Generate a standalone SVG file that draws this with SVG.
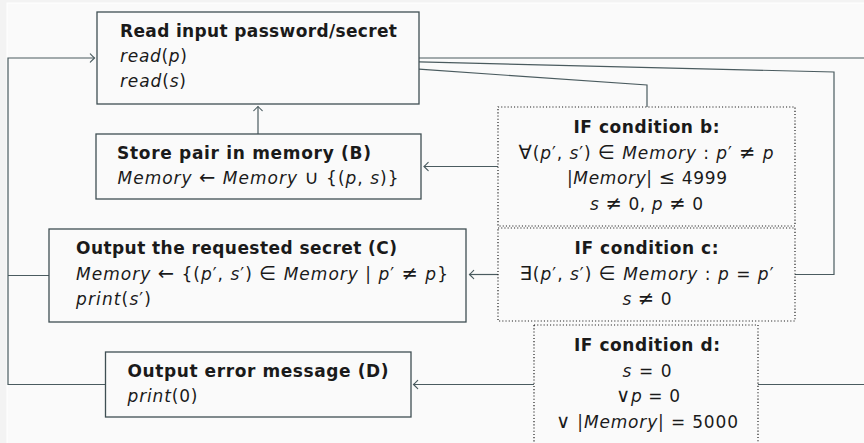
<svg xmlns="http://www.w3.org/2000/svg" width="864" height="443" viewBox="0 0 864 443">
<style>
.t{font-family:"DejaVu Sans",sans-serif;font-size:17px;fill:#1a1a1a}
.b{font-weight:bold}
.i{font-style:italic}
.m{text-anchor:middle}
.s{font-size:19.5px}
.box{fill:none;stroke:#3f4f53;stroke-width:1.3}
.dot{fill:none;stroke:#1e1e1e;stroke-width:1.2;stroke-dasharray:1.1 2.1}
.ln{fill:none;stroke:#4a5b5f;stroke-width:1.2}
</style>
<defs>
<marker id="arr" viewBox="-6 -6 8 12" refX="0" refY="0" markerWidth="8" markerHeight="12" markerUnits="userSpaceOnUse" orient="auto">
<path d="M-4.2,-4.2 Q-1,-0.9 0,0 Q-1,0.9 -4.2,4.2" fill="none" stroke="#4a5b5f" stroke-width="1.1" stroke-linecap="round"/>
</marker>
</defs>
<rect x="0" y="0" width="864" height="443" fill="#f3f3f3"/>
<rect x="7" y="3" width="870" height="450" fill="#fafafa" stroke="#ffffff" stroke-width="1"/>

<g id="connectors">
<path class="ln" d="M419,58 H880 V384.5 H758"/>
<path class="ln" d="M419,61.9 L834,72 V274.5 H795"/>
<path class="ln" d="M419,69.2 L647,85 V107"/>
<path class="ln" d="M498,166.5 H424" marker-end="url(#arr)"/>
<path class="ln" d="M498,274.5 H469.5" marker-end="url(#arr)"/>
<path class="ln" d="M534,384.5 H413.5" marker-end="url(#arr)"/>
<path class="ln" d="M258,134 V106.5" marker-end="url(#arr)"/>
<path class="ln" d="M105.5,384.5 H8 V58 H94.5" marker-end="url(#arr)"/>
<path class="ln" d="M49,275.5 H8"/>
</g>

<g id="node-read">
<rect class="box" x="97" y="12" width="322" height="92"/>
<text class="t b" x="120" y="37" textLength="277" lengthAdjust="spacing">Read input password/secret</text>
<text class="t" x="120" y="62" textLength="67" lengthAdjust="spacing"><tspan class="i">read</tspan>(<tspan class="i">p</tspan>)</text>
<text class="t" x="120" y="87" textLength="66" lengthAdjust="spacing"><tspan class="i">read</tspan>(<tspan class="i">s</tspan>)</text>
</g>

<g id="node-store">
<rect class="box" x="96" y="134" width="325" height="65"/>
<text class="t b" x="117" y="158.5" textLength="254" lengthAdjust="spacing">Store pair in memory (B)</text>
<text class="t" x="117.5" y="184" textLength="281" lengthAdjust="spacing"><tspan class="i">Memory</tspan> <tspan class="s">←</tspan> <tspan class="i">Memory</tspan> <tspan class="s">∪</tspan> {(<tspan class="i">p</tspan>, <tspan class="i">s</tspan>)}</text>
</g>

<g id="node-output-secret">
<rect class="box" x="49" y="229" width="417" height="93"/>
<text class="t b" x="76" y="254" textLength="321" lengthAdjust="spacing">Output the requested secret (C)</text>
<text class="t" x="76" y="279.5" textLength="372" lengthAdjust="spacing"><tspan class="i">Memory</tspan> <tspan class="s">←</tspan> {(<tspan class="i">p</tspan>′, <tspan class="i">s</tspan>′) <tspan class="s">∈</tspan> <tspan class="i">Memory</tspan> | <tspan class="i">p</tspan>′ <tspan class="s">≠</tspan> <tspan class="i">p</tspan>}</text>
<text class="t" x="76" y="305" textLength="75" lengthAdjust="spacing"><tspan class="i">print</tspan>(<tspan class="i">s</tspan>′)</text>
</g>

<g id="node-output-error">
<rect class="box" x="105.5" y="352" width="305.5" height="65"/>
<text class="t b" x="127.5" y="377" textLength="261" lengthAdjust="spacing">Output error message (D)</text>
<text class="t" x="127.5" y="402" textLength="70" lengthAdjust="spacing"><tspan class="i">print</tspan>(0)</text>
</g>

<g id="node-cond-b">
<rect class="dot" x="498" y="107" width="297" height="119"/>
<text class="t b m" x="646.5" y="133" textLength="146" lengthAdjust="spacing">IF condition b:</text>
<text class="t m" x="646" y="158.5" textLength="255" lengthAdjust="spacing"><tspan class="s">∀</tspan>(<tspan class="i">p</tspan>′, <tspan class="i">s</tspan>′) <tspan class="s">∈</tspan> <tspan class="i">Memory</tspan> : <tspan class="i">p</tspan>′ <tspan class="s">≠</tspan> <tspan class="i">p</tspan></text>
<text class="t m" x="647" y="184" textLength="160" lengthAdjust="spacing">|<tspan class="i">Memory</tspan>| <tspan class="s">≤</tspan> 4999</text>
<text class="t m" x="646.5" y="209.5" textLength="113" lengthAdjust="spacing"><tspan class="i">s</tspan> <tspan class="s">≠</tspan> 0, <tspan class="i">p</tspan> <tspan class="s">≠</tspan> 0</text>
</g>

<g id="node-cond-c">
<rect class="dot" x="498" y="228" width="297" height="93"/>
<text class="t b m" x="646.5" y="254" textLength="144" lengthAdjust="spacing">IF condition c:</text>
<text class="t m" x="646.5" y="279.5" textLength="254" lengthAdjust="spacing"><tspan class="s">∃</tspan>(<tspan class="i">p</tspan>′, <tspan class="i">s</tspan>′) <tspan class="s">∈</tspan> <tspan class="i">Memory</tspan> : <tspan class="i">p</tspan> = <tspan class="i">p</tspan>′</text>
<text class="t m" x="647" y="305" textLength="49" lengthAdjust="spacing"><tspan class="i">s</tspan> <tspan class="s">≠</tspan> 0</text>
</g>

<g id="node-cond-d">
<rect class="dot" x="534" y="325" width="224" height="119"/>
<text class="t b m" x="647" y="351" textLength="146" lengthAdjust="spacing">IF condition d:</text>
<text class="t m" x="647" y="376.5" textLength="49" lengthAdjust="spacing"><tspan class="i">s</tspan> = 0</text>
<text class="t m" x="648" y="402" textLength="64" lengthAdjust="spacing"><tspan class="s">∨</tspan><tspan class="i">p</tspan> = 0</text>
<text class="t m" x="647" y="427.5" textLength="182" lengthAdjust="spacing"><tspan class="s">∨</tspan> |<tspan class="i">Memory</tspan>| = 5000</text>
</g>
</svg>
